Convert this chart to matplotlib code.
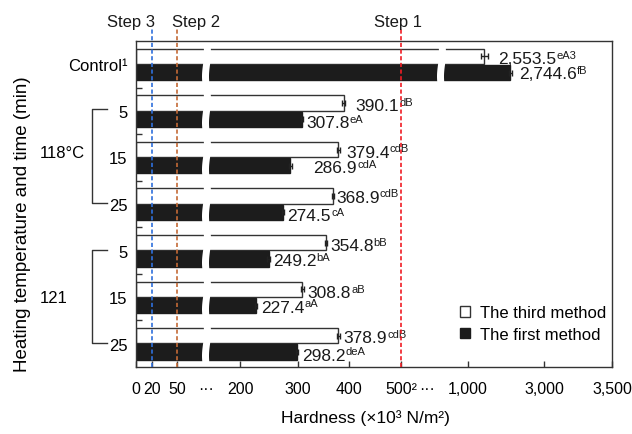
import numpy as np
import matplotlib
matplotlib.use('Agg')
import matplotlib.pyplot as plt
from matplotlib.patches import Patch

plt.rcParams['font.family'] = ['Liberation Sans', 'DejaVu Sans']

# hardness (x10^3 N/m^2) for each heating treatment
groups = ['Control¹', '5', '15', '25', '5', '15', '25']
third_method = [2553.5, 390.1, 379.4, 368.9, 354.8, 308.8, 378.9]
first_method = [2744.6, 307.8, 286.9, 274.5, 249.2, 227.4, 298.2]
third_err = [25, 3, 3, 2, 2, 2, 3]
first_err = [10, 2, 2, 2, 2, 2, 2]
third_sig = ['eA3', 'dB', 'cdB', 'cdB', 'bB', 'aB', 'cdB']
first_sig = ['fB', 'eA', 'cdA', 'cA', 'bA', 'aA', 'deA']

steps = ['Step 3', 'Step 2', 'Step 1']
step_values = [20, 50, 500]
step_colors = ['#2f6fdc', '#c46a36', '#f01c24']

xticks = [0, 20, 50, 110, 200, 300, 400, 500, 550, 1000, 3000, 3500]
xticklabels = ['0', '20', '50', '···', '200', '300', '400', '500²', '···',
               '1,000', '3,000', '3,500']

# broken axis: value -> pixel position knots
knot_vals = [0, 50, 80, 148, 200, 300, 400, 500, 569, 900, 1000, 2500, 2800, 3000, 3500]
knot_pos = [136, 177, 202, 210, 240, 298, 349, 401, 437, 445, 468, 477, 518, 544, 612]


def fwd(v):
    return np.interp(v, knot_vals, knot_pos)


def inv(p):
    return np.interp(p, knot_pos, knot_vals)


W, H = 632, 435
fig = plt.figure(figsize=(W / 100, H / 100), dpi=100)
ax = fig.add_axes([136 / W, 1 - 368 / H, 476 / W, 326 / H])
ax.set_xscale('function', functions=(fwd, inv))

y = np.arange(len(groups))
bh = 0.33
y_third = y - 0.17
y_first = y + 0.18

ax.barh(y_third, third_method, height=bh, color='white', edgecolor='#333333', lw=1, zorder=1)
ax.barh(y_first, first_method, height=bh, color='#1c1c1c', edgecolor='#1c1c1c', lw=1, zorder=1)
ax.errorbar(third_method, y_third, xerr=third_err, fmt='none', ecolor='#222222',
            elinewidth=1, capsize=2.5, zorder=2)
ax.errorbar(first_method, y_first, xerr=first_err, fmt='none', ecolor='#222222',
            elinewidth=1, capsize=2.5, zorder=2)

# axis breaks (white wavy bands)
yy = np.linspace(-0.45, 6.45, 400)
for p0, p1 in [(202.5, 209.5), (437.5, 444.5)]:
    wave = 1.0 * np.sin(2 * np.pi * (yy + 0.5))
    ax.fill_betweenx(yy, inv(p0 + wave), inv(p1 + wave), color='white', lw=0, zorder=1.5)

# value labels with superscript letters
third_dx = [10, 10, 6, 2, 3, 4, 4]
first_dx = [7, 3, 22, 3, 3, 4, 4]
third_dy = [2, 3, 2.5, 1, 3, 3, 2]
first_dy = [1, 3, 1.5, 3, 2, 1.5, 3]
for vals, errs, sigs, ys, dxs, dys in [
        (third_method, third_err, third_sig, y_third, third_dx, third_dy),
        (first_method, first_err, first_sig, y_first, first_dx, first_dy)]:
    for i in range(len(groups)):
        t = ax.annotate(f'{vals[i]:,.1f}', (vals[i] + errs[i], ys[i]),
                        xytext=(dxs[i] * 0.72, -dys[i] * 0.72), textcoords='offset points',
                        ha='left', va='center', fontsize=12.5, color='#1a1a1a')
        ax.annotate(sigs[i], xy=(1, 1), xycoords=t, xytext=(0.2, 0.8),
                    textcoords='offset points', ha='left', va='top',
                    fontsize=8, color='#1a1a1a')

# step lines
xt = ax.get_xaxis_transform()
for s, v, c in zip(steps, step_values, step_colors):
    ax.plot([v, v], [0, 1.037], transform=xt, color=c, lw=1.2, ls=(0, (2.5, 1.5)),
            clip_on=False, zorder=3)
ax.text(step_values[0] + 3, 1.061, steps[0], transform=xt, ha='right', va='center',
        fontsize=12, color='#1a1a1a')
ax.text(step_values[1] - 6, 1.061, steps[1], transform=xt, ha='left', va='center',
        fontsize=12, color='#1a1a1a')
ax.text(step_values[2] - 5, 1.061, steps[2], transform=xt, ha='center', va='center',
        fontsize=12, color='#1a1a1a')

ax.set_xlim(0, 3500)
ax.set_ylim(6.5, -0.5)

ax.set_xticks(xticks)
ax.set_xticklabels(xticklabels)
ax.tick_params(axis='x', direction='in', length=4, width=1, color='#333333',
               labelsize=11.5, pad=10)
for t, lab in zip(ax.xaxis.get_major_ticks(), xticklabels):
    if lab == '···':
        t.tick1line.set_visible(False)

ax.set_yticks(y)
ax.set_yticklabels(groups)
ax.set_yticks(y[:-1] + 0.5, minor=True)
ax.tick_params(axis='y', which='major', length=0, labelsize=12, pad=6)
ax.tick_params(axis='y', which='minor', direction='in', length=4, width=1, color='#333333')

for sp in ax.spines.values():
    sp.set_color('#333333')
    sp.set_linewidth(1)

# temperature brackets
yt = ax.get_yaxis_transform()
for top, bot in [(0.97, 2.97), (3.99, 5.98)]:
    ax.plot([-0.061, -0.0924, -0.0924, -0.061], [top, top, bot, bot], transform=yt,
            color='#333333', lw=1, clip_on=False)
ax.text(-0.2017, 1.9, '118°C', transform=yt, ha='left', va='center', fontsize=12)
ax.text(-0.2017, 5.0, '121', transform=yt, ha='left', va='center', fontsize=12)

fig.text(23 / W, 1 - 224 / H, 'Heating temperature and time (min)', rotation=90,
         ha='center', va='center', fontsize=13.5)
fig.text(365 / W, 1 - 418 / H, 'Hardness (×10³ N/m²)', ha='center', va='center', fontsize=12.5)

handles = [Patch(facecolor='white', edgecolor='#333333', lw=1),
           Patch(facecolor='#1c1c1c', edgecolor='#1c1c1c', lw=1)]
ax.legend(handles, ['The third method', 'The first method'], loc='upper left',
          bbox_to_anchor=(0.664, 0.215), frameon=False, fontsize=12, borderpad=0,
          handlelength=0.6, handleheight=0.6, handletextpad=0.6, labelspacing=0.4)

fig.savefig('out.png', dpi=100)
